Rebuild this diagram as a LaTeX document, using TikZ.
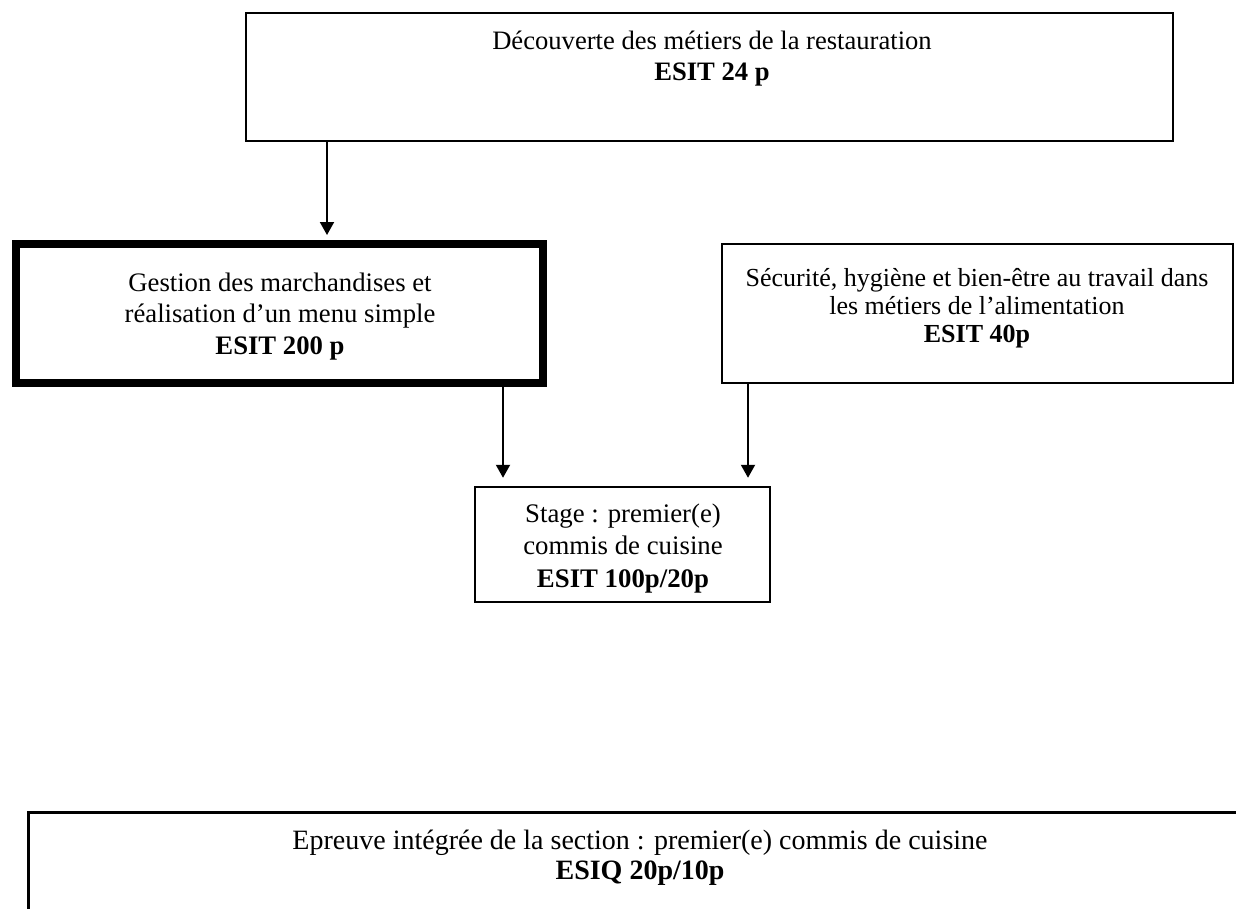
\documentclass[tikz,border=0pt]{standalone}
\usepackage{fontspec}
\setmainfont{Liberation Serif}
\usetikzlibrary{arrows.meta}
\begin{document}
\begin{tikzpicture}[x=1pt,y=-1pt,
  boxthin/.style={draw=black,line width=2.5pt,rectangle,inner sep=0pt,fill=none},
  boxthick/.style={draw=black,line width=8pt,rectangle,inner sep=0pt,fill=none},
  boxbottom/.style={draw=black,line width=3pt,rectangle,inner sep=0pt,fill=none},
  txt/.style={inner sep=0pt,align=center,anchor=base},
  arr/.style={line width=2pt,-{Triangle[width=14pt,length=13pt]}}
]
\useasboundingbox (0,0) rectangle (1236,908);
\clip (0,0) rectangle (1236,908);
\fill[white] (0,0) rectangle (1236,908);

% boxes
\node[boxthin, minimum width=927pt, minimum height=128pt] (top) at (709.5,77) {};
\node[boxthick, minimum width=527pt, minimum height=139pt] (gestion) at (279.5,313.5) {};
\node[boxthin, minimum width=511pt, minimum height=139pt] (securite) at (977.5,313.5) {};
\node[boxthin, minimum width=295pt, minimum height=115pt] (stage) at (622.5,544.5) {};
\node[boxbottom, minimum width=1300pt, minimum height=150pt] (epreuve) at (678.5,887.5) {};

% texts (anchor base = baseline of the last line)
\node[txt, font=\fontsize{26.6}{31}\selectfont] (ttop) at (712,80)
  {Découverte des métiers de la restauration\\\textbf{ESIT 24 p}};
\node[txt, font=\fontsize{26.7}{31.5}\selectfont] (tgestion) at (280,354)
  {Gestion des marchandises et\\réalisation d’un menu simple\\\textbf{ESIT 200 p}};
\node[txt, font=\fontsize{26}{28}\selectfont] (tsecurite) at (977,342)
  {Sécurité, hygiène et bien-être au travail dans\\les métiers de l’alimentation\\\textbf{ESIT 40p}};
\node[txt, font=\fontsize{26.8}{32.5}\selectfont] (tstage) at (623,587)
  {Stage : premier(e)\\commis de cuisine\\\textbf{ESIT 100p/20p}};
\node[txt, font=\fontsize{28}{29.5}\selectfont] (tepreuve) at (640,879)
  {Epreuve intégrée de la section : premier(e) commis de cuisine\\\textbf{ESIQ 20p/10p}};

% connectors
\coordinate (x1) at (327,0);
\coordinate (x2) at (503,0);
\coordinate (x3) at (748,0);
\draw[arr, shorten >=5pt] (top.south -| x1) -- (gestion.north -| x1);
\draw[arr, shorten >=8pt] (gestion.south -| x2) -- (stage.north -| x2);
\draw[arr, shorten >=8pt] (securite.south -| x3) -- (stage.north -| x3);
\end{tikzpicture}
\end{document}
